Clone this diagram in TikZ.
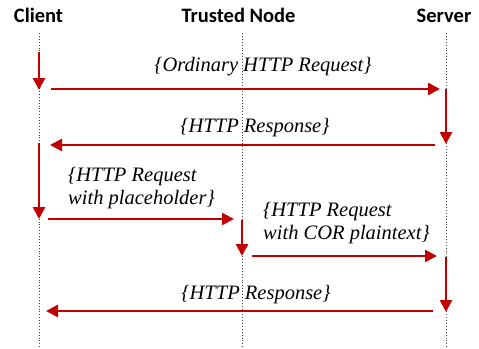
\documentclass[tikz,border=0pt]{standalone}
\usepackage{fontspec}
\setmainfont{Liberation Serif}
\newfontfamily\titlefont{Carlito}
\usetikzlibrary{arrows.meta}
\definecolor{arrowred}{HTML}{C00000}
\begin{document}
\begin{tikzpicture}[x=1pt,y=-1pt,
  title/.style={font=\titlefont\bfseries\fontsize{20.5}{24}\selectfont, inner sep=0pt, anchor=base},
  msg/.style={font=\itshape\fontsize{20.5}{23.5}\selectfont, inner sep=0pt},
  lifeline/.style={line width=0.9pt, dotted, black!75},
  flow/.style={draw=arrowred, line width=2.6pt, -{Triangle[length=12pt,width=12pt]}}]
\useasboundingbox (0,0) rectangle (479,348);
% titles
\node[title] (client) at (38.5,23) {Client};
\node[title] (trusted) at (238.5,23) {Trusted Node};
\node[title] (server) at (444,23) {Server};
% lifelines
\coordinate (cTop) at (39,33);   \coordinate (cBot) at (39,348);
\coordinate (tTop) at (242,33);  \coordinate (tBot) at (242,348);
\coordinate (sTop) at (446,33);  \coordinate (sBot) at (446,348);
\draw[lifeline] (cTop) -- (cBot);
\draw[lifeline] (tTop) -- (tBot);
\draw[lifeline] (sTop) -- (sBot);
% arrow end points
\coordinate (v1a) at (39,52);   \coordinate (v1b) at (39,90);
\coordinate (h1a) at (51,89);   \coordinate (h1b) at (440,89);
\coordinate (v2a) at (446,89);  \coordinate (v2b) at (446,144);
\coordinate (h2a) at (435,145); \coordinate (h2b) at (50,145);
\coordinate (v3a) at (39,143);  \coordinate (v3b) at (39,219);
\coordinate (h3a) at (48,219);  \coordinate (h3b) at (234,219);
\coordinate (v4a) at (242,220); \coordinate (v4b) at (242,256);
\coordinate (h4a) at (252,256); \coordinate (h4b) at (437,256);
\coordinate (v5a) at (446,257); \coordinate (v5b) at (446,312);
\coordinate (h5a) at (433,311); \coordinate (h5b) at (46,311);
\draw[flow] (v1a) -- (v1b);
\draw[flow] (h1a) -- (h1b);
\draw[flow] (v2a) -- (v2b);
\draw[flow] (h2a) -- (h2b);
\draw[flow] (v3a) -- (v3b);
\draw[flow] (h3a) -- (h3b);
\draw[flow] (v4a) -- (v4b);
\draw[flow] (h4a) -- (h4b);
\draw[flow] (v5a) -- (v5b);
\draw[flow] (h5a) -- (h5b);
% labels
\node[msg] (l1) at (263,67) {\{Ordinary HTTP Request\}};
\node[msg] (l2) at (255,128) {\{HTTP Response\}};
\node[msg, anchor=north west, align=left] (l3) at (68,167) {\{HTTP Request\\with placeholder\}};
\node[msg, anchor=north west, align=left] (l4) at (263,202) {\{HTTP Request\\with COR plaintext\}};
\node[msg] (l5) at (256,295) {\{HTTP Response\}};
\end{tikzpicture}
\end{document}
